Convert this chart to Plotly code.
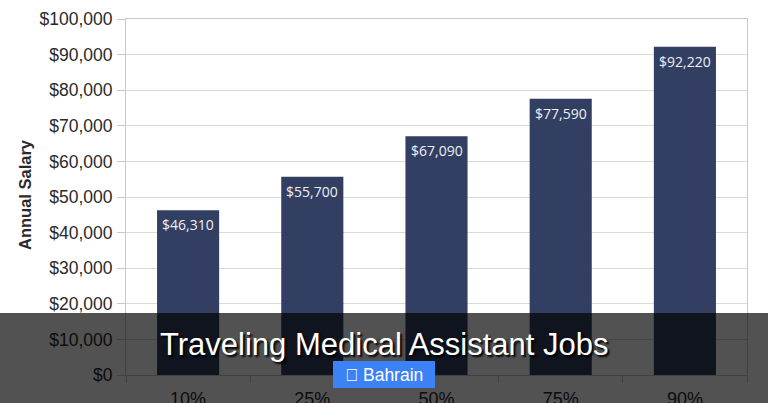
import plotly.graph_objects as go

categories = ["10%", "25%", "50%", "75%", "90%"]
salaries = [46310, 55700, 67090, 77590, 92220]
bar_labels = ["$46,310", "$55,700", "$67,090", "$77,590", "$92,220"]
y_ticks = list(range(0, 100001, 10000))
y_tick_labels = [f"${v:,}" for v in y_ticks]
axis_title = "Annual Salary"
title_text = "Traveling Medical Assistant Jobs"
badge_text = "\uf3c5 Bahrain"

W, H = 768, 403
L, R, T, B = 126, 747, 19, 375

fig = go.Figure(go.Bar(
    x=categories, y=salaries,
    marker=dict(color="#323f62", line=dict(width=0)),
))
bar_annotations = [
    dict(x=c, y=v, xref="x", yref="y", text=t, showarrow=False, yanchor="middle", yshift=-14.5,
         font=dict(family="Open Sans, DejaVu Sans", size=14, color="#eef0f4"))
    for c, v, t in zip(categories, salaries, bar_labels)
]
fig.update_layout(
    width=W, height=H, autosize=False,
    margin=dict(l=L, r=W - R, t=T, b=H - B, pad=0),
    paper_bgcolor="#ffffff", plot_bgcolor="#ffffff",
    bargap=0.5, showlegend=False,
    font=dict(family="Liberation Sans, Arial", color="#2a2a2a"),
    xaxis=dict(
        type="category", tickson="boundaries", ticks="outside", ticklen=7,
        tickcolor="#c8c8c8", tickwidth=1, showline=True, linecolor="#c8c8c8",
        linewidth=1, mirror=True, showgrid=False, tickfont=dict(size=18, color="#2a2a2a"),
        range=[-0.5, 4.5], automargin=False, ticklabelstandoff=7,
    ),
    yaxis=dict(
        range=[0, 100000], tickvals=y_ticks, ticktext=y_tick_labels, ticks="outside",
        ticklen=8, tickcolor="#c8c8c8", showline=True, linecolor="#c8c8c8", linewidth=1,
        mirror=True, showgrid=True, gridcolor="#dadada", gridwidth=1.2, zeroline=False,
        tickfont=dict(size=17.5, color="#2a2a2a"), automargin=False, ticklabelstandoff=1,
    ),
    shapes=[
        dict(type="rect", xref="paper", yref="paper", x0=-L / (R - L), x1=(W - L) / (R - L),
             y0=(B - H) / (B - T), y1=(B - 313) / (B - T),
             fillcolor="rgba(0,0,0,0.68)", line_width=0, layer="above"),
        dict(type="rect", xref="paper", yref="paper", x0=(333 - L) / (R - L), x1=(435 - L) / (R - L),
             y0=(B - 388) / (B - T), y1=(B - 361) / (B - T),
             fillcolor="#3b82f6", line_width=0, layer="above"),
    ],
    annotations=bar_annotations + [
        dict(xref="paper", yref="paper", x=(25 - L) / (R - L), y=(B - 195) / (B - T),
             text=f"<b>{axis_title}</b>", textangle=-90, showarrow=False,
             xanchor="center", yanchor="middle",
             font=dict(family="Liberation Sans, Arial", size=16.5, color="#2a2a2a")),
        dict(xref="paper", yref="paper", x=(384 - L) / (R - L), y=(B - 344) / (B - T),
             text=title_text, showarrow=False, xanchor="center", yanchor="middle",
             font=dict(family="Liberation Sans, Arial", size=31, color="#ffffff",
                       shadow="2px 2px 2px #000000")),
        dict(xref="paper", yref="paper", x=(384 - L) / (R - L), y=(B - 375) / (B - T),
             text=badge_text, showarrow=False, xanchor="center", yanchor="middle",
             font=dict(family="Liberation Sans, Arial", size=17.5, color="#ffffff")),
    ],
)
fig.write_html("out.html", config={"displayModeBar": False},
               post_script="document.body.style.margin='0';document.body.style.overflow='hidden';")
